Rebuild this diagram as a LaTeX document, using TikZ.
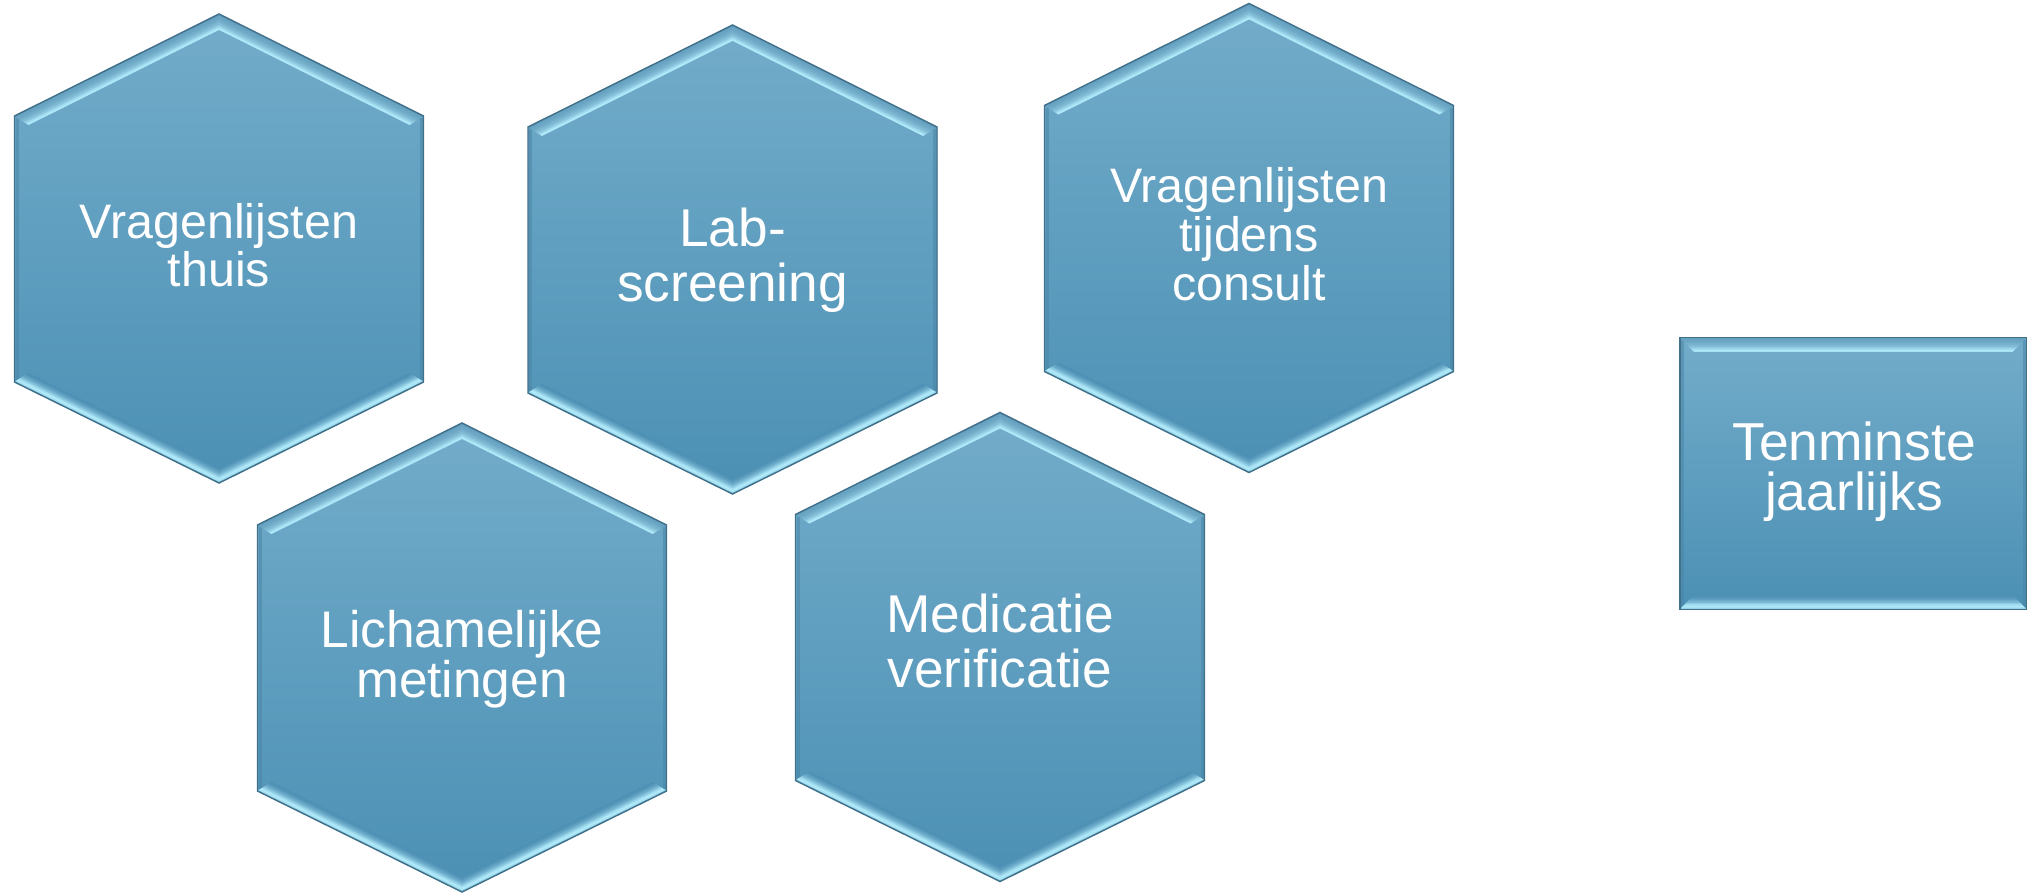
\documentclass[tikz,border=0pt]{standalone}
\usepackage{fontspec}
\setmainfont{Liberation Sans}
\usetikzlibrary{calc}
\definecolor{hexTop}{HTML}{73ACCA}
\definecolor{hexMid}{HTML}{5BA2C6}
\definecolor{hexBot}{HTML}{4B90B4}
\definecolor{hexEdge}{HTML}{41708A}
\definecolor{hexHL}{HTML}{B2ECFC}
\definecolor{bevTop}{HTML}{649FBF}
\definecolor{bevBot}{HTML}{4E91B5}
\definecolor{sideDark}{HTML}{4A85A6}
\tikzset{
  cellface/.style={top color=hexTop, middle color=hexMid, bottom color=hexBot, draw=none},
  celledge/.style={draw=hexEdge, line width=1.4pt, line join=miter},
  cellside/.style={draw=sideDark, line width=3pt, opacity=0.55},
  celltext/.style={text=white, align=center, inner sep=0pt},
}
\def\toplist{0/0,1/4,2/8,3/13,4/20,5/29,6/40,7/55,8/75,9/95}
\def\botlist{0/60,1/88,2/100,3/85,4/65,5/45,6/30,7/18,8/8,9/0}
% #1 outer start, #2 outer end, #3 inner start, #4 inner end, #5 profile, #6 base colour
\newcommand\bandstrip[6]{%
  \foreach \k/\p in #5 {%
    \pgfmathsetmacro\ta{\k/10}%
    \pgfmathsetmacro\tb{(\k+1)/10}%
    \fill[hexHL!\p!#6, draw=hexHL!\p!#6, line width=0.5pt, line join=round]
      ($(#1)!\ta!(#3)$) -- ($(#2)!\ta!(#4)$) -- ($(#2)!\tb!(#4)$) -- ($(#1)!\tb!(#3)$) -- cycle;
  }}
% #1 name, #2 cx, #3 top y, #4 font size, #5 line skip, #6 text, #7 text centre y
\newcommand\hexcell[7]{%
  \begin{scope}[shift={(#2,#3)}]
    \coordinate (#1o1) at (0,0);
    \coordinate (#1o2) at (204.5,102);
    \coordinate (#1o3) at (204.5,368);
    \coordinate (#1o4) at (0,469);
    \coordinate (#1o5) at (-204.5,368);
    \coordinate (#1o6) at (-204.5,102);
    \coordinate (#1i1) at (0,15.6);
    \coordinate (#1i2) at (190.5,110.7);
    \coordinate (#1i3) at (190.5,359.3);
    \coordinate (#1i4) at (0,453.4);
    \coordinate (#1i5) at (-190.5,359.3);
    \coordinate (#1i6) at (-190.5,110.7);
    \coordinate (#1s2) at (202,104);
    \coordinate (#1s3) at (202,366);
    \coordinate (#1s5) at (-202,366);
    \coordinate (#1s6) at (-202,104);
  \end{scope}
  \fill[cellface] (#1o1) -- (#1o2) -- (#1o3) -- (#1o4) -- (#1o5) -- (#1o6) -- cycle;
  \draw[cellside] (#1s2) -- (#1s3);
  \draw[cellside] (#1s6) -- (#1s5);
  \bandstrip{#1o6}{#1o1}{#1i6}{#1i1}{\toplist}{bevTop}
  \bandstrip{#1o1}{#1o2}{#1i1}{#1i2}{\toplist}{bevTop}
  \bandstrip{#1o3}{#1o4}{#1i3}{#1i4}{\botlist}{bevBot}
  \bandstrip{#1o4}{#1o5}{#1i4}{#1i5}{\botlist}{bevBot}
  \draw[celledge] (#1o1) -- (#1o2) -- (#1o3) -- (#1o4) -- (#1o5) -- (#1o6) -- cycle;
  \node[celltext, font=\fontsize{#4}{#5}\selectfont] (#1) at (#2,#7) {#6};
}
\begin{document}
\begin{tikzpicture}[x=1pt, y=-1pt]
  \fill[white] (0,0) rectangle (2028,894);
  \useasboundingbox (0,0) rectangle (2028,894);

  \hexcell{thuis}{219}{14}{48.4}{48}{Vragenlijsten\\thuis}{245.5}
  \hexcell{lab}{732.5}{25}{53.2}{55}{Lab-\\screening}{260.5}
  \hexcell{consult}{1249}{3.5}{48.4}{49}{Vragenlijsten\\tijdens\\consult}{234.5}
  \hexcell{meting}{462}{423}{51.4}{50}{Lichamelijke\\metingen}{659.5}
  \hexcell{medic}{1000}{412.5}{53.2}{55}{Medicatie\\verificatie}{641}

  % rectangle "Tenminste jaarlijks"
  \coordinate (ro1) at (1680,337.5);
  \coordinate (ro2) at (2026.5,337.5);
  \coordinate (ro3) at (2026.5,609.5);
  \coordinate (ro4) at (1680,609.5);
  \coordinate (ri1) at (1694,351.5);
  \coordinate (ri2) at (2012.5,351.5);
  \coordinate (ri3) at (2012.5,595.5);
  \coordinate (ri4) at (1694,595.5);
  \coordinate (rs1) at (1682.5,339.5);
  \coordinate (rs2) at (2024,339.5);
  \coordinate (rs3) at (2024,607.5);
  \coordinate (rs4) at (1682.5,607.5);
  \fill[cellface] (ro1) -- (ro2) -- (ro3) -- (ro4) -- cycle;
  \draw[cellside] (rs1) -- (rs4);
  \draw[cellside] (rs2) -- (rs3);
  \bandstrip{ro1}{ro2}{ri1}{ri2}{\toplist}{bevTop}
  \bandstrip{ro4}{ro3}{ri4}{ri3}{\botlist}{bevBot}
  \draw[celledge] (ro1) -- (ro2) -- (ro3) -- (ro4) -- cycle;
  \node[celltext, font=\fontsize{53.4}{50}\selectfont] (jaar) at (1854,472) {Tenminste\\jaarlijks};
\end{tikzpicture}
\end{document}
